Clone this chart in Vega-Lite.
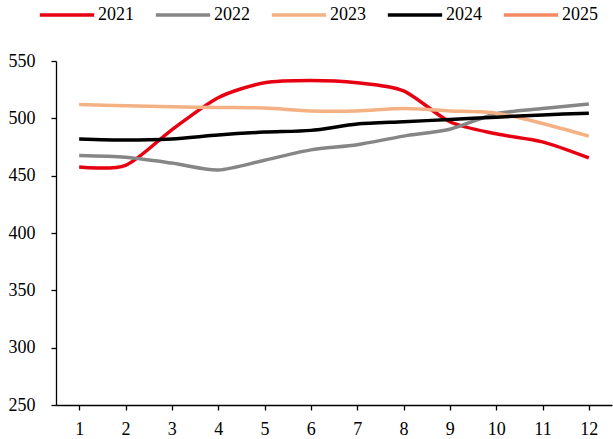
{
  "$schema": "https://vega.github.io/schema/vega-lite/v6.json",
  "autosize": {"type": "none"},
  "padding": {"left": 56, "top": 61, "right": 1, "bottom": 34},
  "width": 556,
  "height": 344,
  "background": "white",
  "data": {
    "values": [
      {"month": 1, "year": "2021", "value": 457.5},
      {"month": 2, "year": "2021", "value": 459},
      {"month": 3, "year": "2021", "value": 490},
      {"month": 4, "year": "2021", "value": 518},
      {"month": 5, "year": "2021", "value": 531},
      {"month": 6, "year": "2021", "value": 533},
      {"month": 7, "year": "2021", "value": 531},
      {"month": 8, "year": "2021", "value": 524},
      {"month": 9, "year": "2021", "value": 497},
      {"month": 10, "year": "2021", "value": 486.5},
      {"month": 11, "year": "2021", "value": 479.5},
      {"month": 12, "year": "2021", "value": 465.5},
      {"month": 1, "year": "2022", "value": 467.5},
      {"month": 2, "year": "2022", "value": 466},
      {"month": 3, "year": "2022", "value": 461},
      {"month": 4, "year": "2022", "value": 455},
      {"month": 5, "year": "2022", "value": 463.5},
      {"month": 6, "year": "2022", "value": 472.5},
      {"month": 7, "year": "2022", "value": 477},
      {"month": 8, "year": "2022", "value": 484.5},
      {"month": 9, "year": "2022", "value": 490.5},
      {"month": 10, "year": "2022", "value": 504},
      {"month": 11, "year": "2022", "value": 508.5},
      {"month": 12, "year": "2022", "value": 512.5},
      {"month": 1, "year": "2023", "value": 512},
      {"month": 2, "year": "2023", "value": 511},
      {"month": 3, "year": "2023", "value": 510},
      {"month": 4, "year": "2023", "value": 509.5},
      {"month": 5, "year": "2023", "value": 509},
      {"month": 6, "year": "2023", "value": 506.5},
      {"month": 7, "year": "2023", "value": 506.5},
      {"month": 8, "year": "2023", "value": 508.5},
      {"month": 9, "year": "2023", "value": 506.5},
      {"month": 10, "year": "2023", "value": 504.5},
      {"month": 11, "year": "2023", "value": 495.5},
      {"month": 12, "year": "2023", "value": 484.5},
      {"month": 1, "year": "2024", "value": 482},
      {"month": 2, "year": "2024", "value": 481},
      {"month": 3, "year": "2024", "value": 482},
      {"month": 4, "year": "2024", "value": 485.5},
      {"month": 5, "year": "2024", "value": 488},
      {"month": 6, "year": "2024", "value": 489.5},
      {"month": 7, "year": "2024", "value": 495},
      {"month": 8, "year": "2024", "value": 497},
      {"month": 9, "year": "2024", "value": 499},
      {"month": 10, "year": "2024", "value": 501},
      {"month": 11, "year": "2024", "value": 503},
      {"month": 12, "year": "2024", "value": 504.5}
    ]
  },
  "mark": {"type": "line", "interpolate": "cardinal", "tension": 0.2, "strokeWidth": 3.5},
  "encoding": {
    "x": {
      "field": "month",
      "type": "ordinal",
      "scale": {"paddingInner": 0, "paddingOuter": 0},
      "axis": {
        "title": null,
        "labelAngle": 0,
        "bandPosition": 1,
        "grid": false,
        "domainColor": "black",
        "domainWidth": 1.3,
        "tickColor": "black",
        "tickWidth": 1.3,
        "tickSize": 5,
        "labelPadding": 10,
        "labelFont": "Liberation Serif, Times New Roman, serif",
        "labelFontSize": 18,
        "labelColor": "black"
      }
    },
    "y": {
      "field": "value",
      "type": "quantitative",
      "scale": {"domain": [250, 550], "nice": false, "zero": false},
      "axis": {
        "title": null,
        "values": [250, 300, 350, 400, 450, 500, 550],
        "grid": false,
        "domainColor": "black",
        "domainWidth": 1.3,
        "tickColor": "black",
        "tickWidth": 1.3,
        "tickSize": 5,
        "labelPadding": 16,
        "labelFont": "Liberation Serif, Times New Roman, serif",
        "labelFontSize": 18,
        "labelColor": "black"
      }
    },
    "color": {
      "field": "year",
      "type": "nominal",
      "scale": {
        "domain": ["2021", "2022", "2023", "2024", "2025"],
        "range": ["#E60012", "#868686", "#F4B183", "#000000", "#F58A62"]
      },
      "legend": {
        "title": null,
        "orient": "none",
        "direction": "horizontal",
        "legendX": -18,
        "legendY": -75,
        "symbolType": "stroke",
        "symbolSize": 2950,
        "symbolStrokeWidth": 3.5,
        "labelFont": "Liberation Serif, Times New Roman, serif",
        "labelFontSize": 18,
        "labelColor": "black",
        "labelOffset": 2,
        "columnPadding": 14
      }
    }
  },
  "config": {"view": {"stroke": null}}
}
